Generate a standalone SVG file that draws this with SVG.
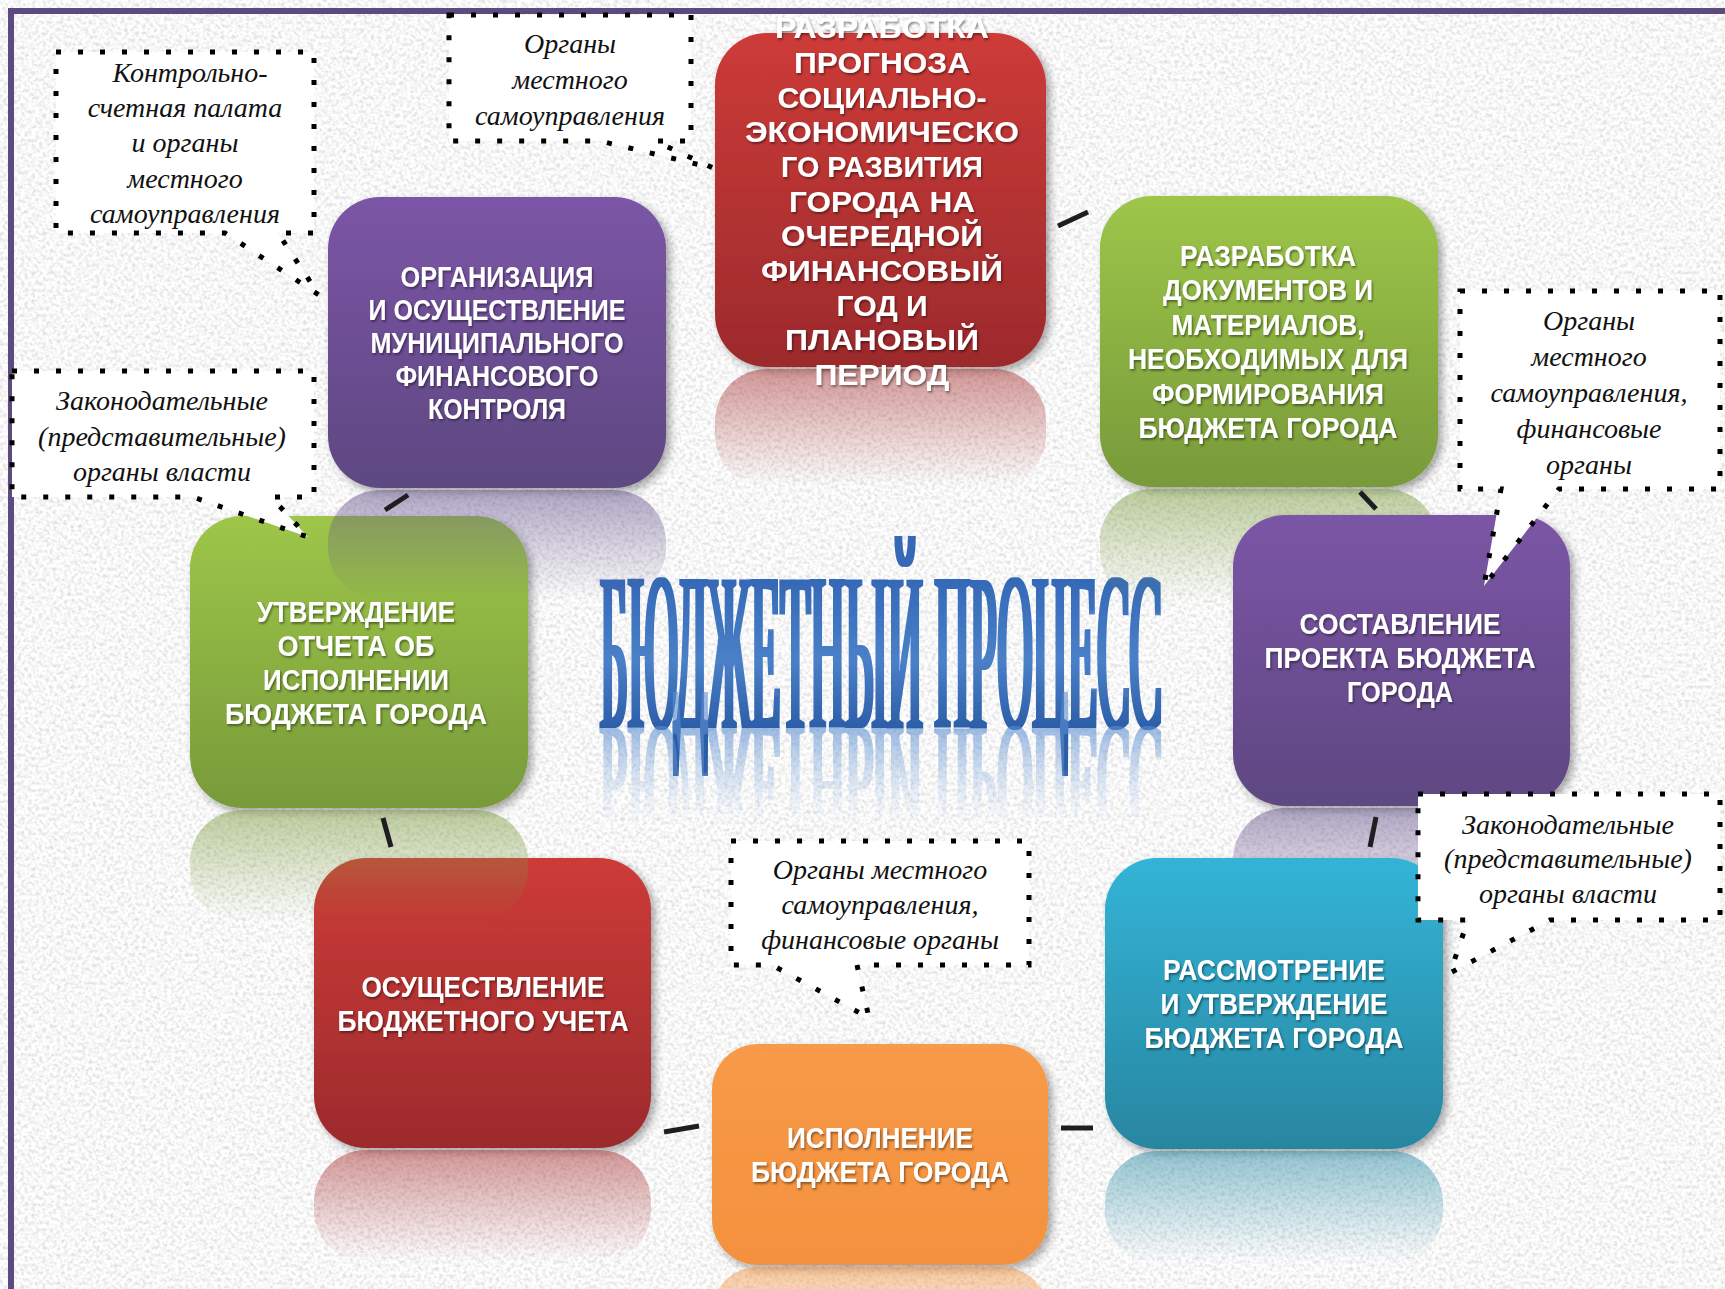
<svg xmlns="http://www.w3.org/2000/svg" width="1725" height="1289" viewBox="0 0 1725 1289">
<defs>
<style>
.nt{font-family:"Liberation Sans",Arial,sans-serif;font-weight:bold;font-size:29px;fill:#fff;text-anchor:middle;filter:url(#tsh)}
.ct{font-family:"Liberation Serif","Times New Roman",serif;font-style:italic;font-size:28px;fill:#111;text-anchor:middle}
.co{fill:#fff;stroke:#000;stroke-width:5;stroke-dasharray:5 17}
.cn{stroke:#1e1e22;stroke-width:5;fill:none}
.box{filter:url(#bsh)}
</style>
<filter id="grain" x="0" y="0" width="1725" height="1289" filterUnits="userSpaceOnUse">
<feTurbulence type="fractalNoise" baseFrequency="0.28" numOctaves="3" seed="7" result="n"/>
<feColorMatrix in="n" type="matrix" values="0.6 0 0 0 0.63  0.6 0 0 0 0.63  0.6 0 0 0 0.63  0 0 0 0 1"/>
</filter>
<filter id="bsh" x="-10%" y="-10%" width="125%" height="125%"><feDropShadow dx="4" dy="4" stdDeviation="4" flood-color="#000" flood-opacity="0.35"/></filter>
<filter id="tsh" x="-10%" y="-20%" width="120%" height="150%"><feDropShadow dx="1.2" dy="1.8" stdDeviation="1.2" flood-color="#000" flood-opacity="0.45"/></filter>
<filter id="fat" x="-5%" y="-10%" width="110%" height="120%"><feMorphology operator="dilate" radius="2.4 0.3"/></filter>
<linearGradient id="gRed" x1="0" y1="0" x2="0" y2="1"><stop offset="0" stop-color="#cd3b38"/><stop offset="1" stop-color="#9c2a2c"/></linearGradient>
<linearGradient id="gPur" x1="0" y1="0" x2="0" y2="1"><stop offset="0" stop-color="#7b55a6"/><stop offset="1" stop-color="#5e4881"/></linearGradient>
<linearGradient id="gGrn" x1="0" y1="0" x2="0" y2="1"><stop offset="0" stop-color="#9dc649"/><stop offset="1" stop-color="#789a3a"/></linearGradient>
<linearGradient id="gTeal" x1="0" y1="0" x2="0" y2="1"><stop offset="0" stop-color="#33b4d7"/><stop offset="1" stop-color="#2886a0"/></linearGradient>
<linearGradient id="gOr" x1="0" y1="0" x2="0" y2="1"><stop offset="0" stop-color="#f89a48"/><stop offset="1" stop-color="#f3913f"/></linearGradient>
<linearGradient id="rRed" x1="0" y1="0" x2="0" y2="1"><stop offset="0" stop-color="#a83232" stop-opacity="0.5"/><stop offset="1" stop-color="#a83232" stop-opacity="0"/></linearGradient>
<linearGradient id="rPur" x1="0" y1="0" x2="0" y2="1"><stop offset="0" stop-color="#62508a" stop-opacity="0.5"/><stop offset="1" stop-color="#62508a" stop-opacity="0"/></linearGradient>
<linearGradient id="rGrn" x1="0" y1="0" x2="0" y2="1"><stop offset="0" stop-color="#7c9c40" stop-opacity="0.5"/><stop offset="1" stop-color="#7c9c40" stop-opacity="0"/></linearGradient>
<linearGradient id="rTeal" x1="0" y1="0" x2="0" y2="1"><stop offset="0" stop-color="#2a8aa5" stop-opacity="0.5"/><stop offset="1" stop-color="#2a8aa5" stop-opacity="0"/></linearGradient>
<linearGradient id="rOr" x1="0" y1="0" x2="0" y2="1"><stop offset="0" stop-color="#f3913f" stop-opacity="0.5"/><stop offset="1" stop-color="#f3913f" stop-opacity="0"/></linearGradient>
<linearGradient id="tg" gradientUnits="userSpaceOnUse" x1="0" y1="578" x2="0" y2="728"><stop offset="0" stop-color="#3468b6"/><stop offset="0.55" stop-color="#4a80c8"/><stop offset="1" stop-color="#2c5ea8"/></linearGradient>
<linearGradient id="tgr" gradientUnits="userSpaceOnUse" x1="0" y1="728" x2="0" y2="600"><stop offset="0" stop-color="#5a8ccf" stop-opacity="0.6"/><stop offset="1" stop-color="#9fbfe6" stop-opacity="0"/></linearGradient>
</defs>

<rect x="0" y="0" width="1725" height="1289" fill="#ececec"/>
<rect x="0" y="0" width="1725" height="1289" filter="url(#grain)"/>
<path d="M11,1289 V11 H1725" fill="none" stroke="#5d4a7f" stroke-width="6"/>

<g id="title">
<text x="600" y="728" textLength="562" lengthAdjust="spacingAndGlyphs" font-family="Liberation Serif, serif" font-size="227" fill="url(#tg)" filter="url(#fat)">БЮДЖЕТНЫЙ ПРОЦЕСС</text>
<text x="600" y="728" textLength="562" lengthAdjust="spacingAndGlyphs" font-family="Liberation Serif, serif" font-size="227" fill="url(#tgr)" filter="url(#fat)" transform="translate(0,1274) scale(1,-0.75)">БЮДЖЕТНЫЙ ПРОЦЕСС</text>
</g>

<g id="node-forecast">
<rect class="box" x="715" y="33" width="331" height="334" rx="52" fill="url(#gRed)"/>
<rect x="715" y="369" width="331" height="118" rx="52" fill="url(#rRed)"/>
<text class="nt" x="882" y="38" textLength="214" lengthAdjust="spacingAndGlyphs">РАЗРАБОТКА</text>
<text class="nt" x="882" y="73" textLength="176" lengthAdjust="spacingAndGlyphs">ПРОГНОЗА</text>
<text class="nt" x="882" y="108" textLength="209" lengthAdjust="spacingAndGlyphs">СОЦИАЛЬНО-</text>
<text class="nt" x="882" y="142" textLength="274" lengthAdjust="spacingAndGlyphs">ЭКОНОМИЧЕСКО</text>
<text class="nt" x="882" y="177" textLength="202" lengthAdjust="spacingAndGlyphs">ГО РАЗВИТИЯ</text>
<text class="nt" x="882" y="212" textLength="186" lengthAdjust="spacingAndGlyphs">ГОРОДА НА</text>
<text class="nt" x="882" y="246" textLength="202" lengthAdjust="spacingAndGlyphs">ОЧЕРЕДНОЙ</text>
<text class="nt" x="882" y="281" textLength="242" lengthAdjust="spacingAndGlyphs">ФИНАНСОВЫЙ</text>
<text class="nt" x="882" y="316" textLength="91" lengthAdjust="spacingAndGlyphs">ГОД И</text>
<text class="nt" x="882" y="350" textLength="194" lengthAdjust="spacingAndGlyphs">ПЛАНОВЫЙ</text>
<text class="nt" x="882" y="385" textLength="135" lengthAdjust="spacingAndGlyphs">ПЕРИОД</text>
</g>

<g id="node-documents">
<rect class="box" x="1100" y="196" width="338" height="291" rx="52" fill="url(#gGrn)"/>
<rect x="1100" y="489" width="338" height="115" rx="52" fill="url(#rGrn)"/>
<text class="nt" x="1268" y="266" textLength="176" lengthAdjust="spacingAndGlyphs">РАЗРАБОТКА</text>
<text class="nt" x="1268" y="300" textLength="210" lengthAdjust="spacingAndGlyphs">ДОКУМЕНТОВ И</text>
<text class="nt" x="1268" y="335" textLength="193" lengthAdjust="spacingAndGlyphs">МАТЕРИАЛОВ,</text>
<text class="nt" x="1268" y="369" textLength="280" lengthAdjust="spacingAndGlyphs">НЕОБХОДИМЫХ ДЛЯ</text>
<text class="nt" x="1268" y="404" textLength="232" lengthAdjust="spacingAndGlyphs">ФОРМИРОВАНИЯ</text>
<text class="nt" x="1268" y="438" textLength="259" lengthAdjust="spacingAndGlyphs">БЮДЖЕТА ГОРОДА</text>
</g>

<g id="node-draft">
<rect class="box" x="1233" y="515" width="337" height="291" rx="52" fill="url(#gPur)"/>
<rect x="1233" y="808" width="337" height="112" rx="52" fill="url(#rPur)"/>
<text class="nt" x="1400" y="634" textLength="201" lengthAdjust="spacingAndGlyphs">СОСТАВЛЕНИЕ</text>
<text class="nt" x="1400" y="668" textLength="271" lengthAdjust="spacingAndGlyphs">ПРОЕКТА БЮДЖЕТА</text>
<text class="nt" x="1400" y="702" textLength="106" lengthAdjust="spacingAndGlyphs">ГОРОДА</text>
</g>

<g id="node-approval">
<rect class="box" x="1105" y="858" width="338" height="291" rx="52" fill="url(#gTeal)"/>
<rect x="1105" y="1151" width="338" height="112" rx="52" fill="url(#rTeal)"/>
<text class="nt" x="1274" y="980" textLength="222" lengthAdjust="spacingAndGlyphs">РАССМОТРЕНИЕ</text>
<text class="nt" x="1274" y="1014" textLength="227" lengthAdjust="spacingAndGlyphs">И УТВЕРЖДЕНИЕ</text>
<text class="nt" x="1274" y="1048" textLength="259" lengthAdjust="spacingAndGlyphs">БЮДЖЕТА ГОРОДА</text>
</g>

<g id="node-execution">
<rect class="box" x="712" y="1044" width="336" height="221" rx="46" fill="url(#gOr)"/>
<rect x="712" y="1267" width="336" height="90" rx="46" fill="url(#rOr)"/>
<text class="nt" x="880" y="1148" textLength="186" lengthAdjust="spacingAndGlyphs">ИСПОЛНЕНИЕ</text>
<text class="nt" x="880" y="1182" textLength="258" lengthAdjust="spacingAndGlyphs">БЮДЖЕТА ГОРОДА</text>
</g>

<g id="node-accounting">
<rect class="box" x="314" y="858" width="337" height="290" rx="52" fill="url(#gRed)"/>
<rect x="314" y="1150" width="337" height="112" rx="52" fill="url(#rRed)"/>
<text class="nt" x="483" y="997" textLength="243" lengthAdjust="spacingAndGlyphs">ОСУЩЕСТВЛЕНИЕ</text>
<text class="nt" x="483" y="1031" textLength="291" lengthAdjust="spacingAndGlyphs">БЮДЖЕТНОГО УЧЕТА</text>
</g>

<g id="node-report">
<rect class="box" x="190" y="516" width="338" height="292" rx="52" fill="url(#gGrn)"/>
<rect x="190" y="810" width="338" height="112" rx="52" fill="url(#rGrn)"/>
<text class="nt" x="356" y="622" font-size="30" textLength="198" lengthAdjust="spacingAndGlyphs">УТВЕРЖДЕНИЕ</text>
<text class="nt" x="356" y="656" font-size="30" textLength="157" lengthAdjust="spacingAndGlyphs">ОТЧЕТА ОБ</text>
<text class="nt" x="356" y="690" font-size="30" textLength="186" lengthAdjust="spacingAndGlyphs">ИСПОЛНЕНИИ</text>
<text class="nt" x="356" y="724" font-size="30" textLength="262" lengthAdjust="spacingAndGlyphs">БЮДЖЕТА ГОРОДА</text>
</g>

<g id="node-control">
<rect class="box" x="328" y="197" width="338" height="291" rx="52" fill="url(#gPur)"/>
<rect x="328" y="490" width="338" height="110" rx="52" fill="url(#rPur)"/>
<text class="nt" x="497" y="287" textLength="193" lengthAdjust="spacingAndGlyphs">ОРГАНИЗАЦИЯ</text>
<text class="nt" x="497" y="320" textLength="257" lengthAdjust="spacingAndGlyphs">И ОСУЩЕСТВЛЕНИЕ</text>
<text class="nt" x="497" y="353" textLength="253" lengthAdjust="spacingAndGlyphs">МУНИЦИПАЛЬНОГО</text>
<text class="nt" x="497" y="386" textLength="203" lengthAdjust="spacingAndGlyphs">ФИНАНСОВОГО</text>
<text class="nt" x="497" y="419" textLength="138" lengthAdjust="spacingAndGlyphs">КОНТРОЛЯ</text>
</g>

<g id="connectors">
<line class="cn" x1="1058" y1="226" x2="1088" y2="212"/>
<line class="cn" x1="1360" y1="492" x2="1376" y2="509"/>
<line class="cn" x1="1376" y1="817" x2="1370" y2="847"/>
<line class="cn" x1="1061" y1="1128" x2="1093" y2="1128"/>
<line class="cn" x1="664" y1="1132" x2="699" y2="1126"/>
<line class="cn" x1="383" y1="818" x2="391" y2="847"/>
<line class="cn" x1="385" y1="510" x2="408" y2="495"/>
<line x1="675" y1="212" x2="705" y2="229" stroke="#f2f2f2" stroke-width="3"/>
</g>

<g id="callout-kontrol">
<path class="co" d="M56,52 H314 V233 H278 L319,295 L225,233 H56 Z"/>
<text class="ct" x="190" y="82">Контрольно-</text>
<text class="ct" x="185" y="117">счетная палата</text>
<text class="ct" x="185" y="152">и органы</text>
<text class="ct" x="185" y="188">местного</text>
<text class="ct" x="185" y="223">самоуправления</text>
</g>

<g id="callout-top">
<path class="co" d="M449,15 H691 V141 H655 L713,168 L600,141 H449 Z"/>
<text class="ct" x="570" y="53">Органы</text>
<text class="ct" x="570" y="89">местного</text>
<text class="ct" x="570" y="125">самоуправления</text>
</g>

<g id="callout-left">
<path class="co" d="M12,371 H314 V497 H271 L308,537 L193,497 H12 Z"/>
<text class="ct" x="162" y="410">Законодательные</text>
<text class="ct" x="162" y="446">(представительные)</text>
<text class="ct" x="162" y="481">органы власти</text>
</g>

<g id="callout-right">
<path class="co" d="M1460,291 H1720 V489 H1559 L1484,586 L1501,489 H1460 Z"/>
<text class="ct" x="1589" y="330">Органы</text>
<text class="ct" x="1589" y="366">местного</text>
<text class="ct" x="1589" y="402">самоуправления,</text>
<text class="ct" x="1589" y="438">финансовые</text>
<text class="ct" x="1589" y="474">органы</text>
</g>

<g id="callout-right-bottom">
<path class="co" d="M1418,794 H1720 V920 H1550 L1450,973 L1468,920 H1418 Z"/>
<text class="ct" x="1568" y="834">Законодательные</text>
<text class="ct" x="1568" y="868">(представительные)</text>
<text class="ct" x="1568" y="903">органы власти</text>
</g>

<g id="callout-bottom">
<path class="co" d="M731,841 H1029 V965 H857 L869,1018 L772,965 H731 Z"/>
<text class="ct" x="880" y="879">Органы местного</text>
<text class="ct" x="880" y="914">самоуправления,</text>
<text class="ct" x="880" y="949">финансовые органы</text>
</g>
</svg>
